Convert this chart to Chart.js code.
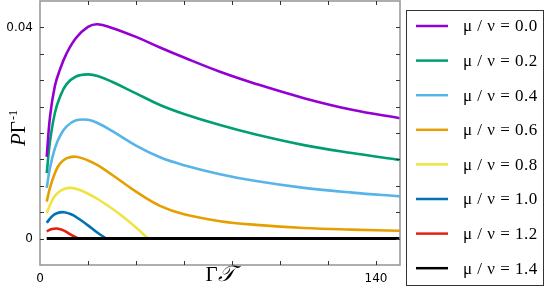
<!DOCTYPE html>
<html>
<head>
<meta charset="utf-8">
<script src="https://cdn.jsdelivr.net/npm/chart.js@4/dist/chart.umd.min.js"></script>
<style>
  html, body { margin: 0; padding: 0; background: #fff; }
  #wrap { width: 545px; height: 296px; }
</style>
</head>
<body>
<div id="wrap"><canvas id="c" width="545" height="296"></canvas></div>
<script>
// ---- data ----
const T_MAIN = [2.8, 4.2, 6.2, 8.3, 11, 15, 20, 24, 30, 40, 50, 60, 75, 90, 110, 130, 150];
const P_MU_00 = [0.0155, 0.0232, 0.0289, 0.0320, 0.0350, 0.0380, 0.0401, 0.0406, 0.0399, 0.0382, 0.0362, 0.0343, 0.0316, 0.0293, 0.0266, 0.0244, 0.0228];
const P_MU_02 = [0.0124, 0.0185, 0.0238, 0.0268, 0.0292, 0.0307, 0.0311, 0.0308, 0.0297, 0.0275, 0.0253, 0.0236, 0.0215, 0.0197, 0.0177, 0.0162, 0.0149];
const P_MU_04 = [0.0096, 0.0135, 0.0171, 0.0194, 0.0212, 0.0224, 0.0225, 0.0219, 0.0204, 0.0176, 0.0154, 0.0139, 0.0122, 0.0109, 0.0096, 0.0087, 0.0080];
const P_MU_06 = [0.0070, 0.0097, 0.0124, 0.0142, 0.0152, 0.0155, 0.0148, 0.0139, 0.0121, 0.0089, 0.0062, 0.0046, 0.0033, 0.0026, 0.0020, 0.0017, 0.0015];
const T_MU_08 = [2.8, 5, 7, 10, 13, 16, 20, 24, 30, 35, 40, 45];
const P_MU_08 = [0.0048, 0.0072, 0.0085, 0.0094, 0.0096, 0.0093, 0.0085, 0.0075, 0.0057, 0.0040, 0.0021, 0.0];
const T_MU_10 = [2.8, 5, 7, 10, 13, 16, 20, 24, 27.7];
const P_MU_10 = [0.0030, 0.0042, 0.0048, 0.0050, 0.0046, 0.0038, 0.0025, 0.0011, 0.0];
const T_MU_12 = [2.8, 5, 7, 10, 13, 16];
const P_MU_12 = [0.0014, 0.0018, 0.0019, 0.0015, 0.0007, 0.0];
const T_MU_14 = [2.8, 150];
const P_MU_14 = [0, 0];
const LABELS = ['μ / ν = 0.0', 'μ / ν = 0.2', 'μ / ν = 0.4', 'μ / ν = 0.6',
                'μ / ν = 0.8', 'μ / ν = 1.0', 'μ / ν = 1.2', 'μ / ν = 1.4'];
const COLORS = ['#9400D3', '#009E73', '#56B4E9', '#E69F00', '#F0E442', '#0072B2', '#E51E10', '#000000'];
const X_TICK_LABELS = [0, 140];
const Y_TICK_LABELS = [0, 0.04];

const SERIES = [
  [T_MAIN, P_MU_00], [T_MAIN, P_MU_02], [T_MAIN, P_MU_04], [T_MAIN, P_MU_06],
  [T_MU_08, P_MU_08], [T_MU_10, P_MU_10], [T_MU_12, P_MU_12], [T_MU_14, P_MU_14]
];

const datasets = SERIES.map((s, i) => ({
  label: LABELS[i],
  data: s[0].map((t, k) => ({ x: t, y: s[1][k] })),
  borderColor: COLORS[i],
  backgroundColor: COLORS[i],
  borderWidth: i === 7 ? 3 : 2.6,
  pointRadius: 0,
  fill: false,
  tension: 0.4,
  order: i === 7 ? -1 : i
}));

const decor = {
  id: 'decor',
  afterDatasetsDraw(chart) {
    const ctx = chart.ctx;
    const a = chart.chartArea;
    const xs = chart.scales.x, ys = chart.scales.y;
    ctx.save();
    // frame
    ctx.strokeStyle = '#9a9a9a';
    ctx.lineWidth = 1.6;
    ctx.strokeRect(a.left, a.top, a.right - a.left, a.bottom - a.top);
    // inward ticks on all sides
    ctx.strokeStyle = '#333';
    ctx.lineWidth = 1;
    const L = 4;
    xs.ticks.forEach(t => {
      if (t.value <= xs.min || t.value >= xs.max) return;
      const px = Math.round(xs.getPixelForValue(t.value)) + 0.5;
      ctx.beginPath();
      ctx.moveTo(px, a.bottom); ctx.lineTo(px, a.bottom - L);
      ctx.moveTo(px, a.top); ctx.lineTo(px, a.top + L);
      ctx.stroke();
    });
    ys.ticks.forEach(t => {
      if (t.value <= ys.min + 1e-9 || t.value >= ys.max - 1e-9) return;
      const py = Math.round(ys.getPixelForValue(t.value)) + 0.5;
      ctx.beginPath();
      ctx.moveTo(a.left, py); ctx.lineTo(a.left + L, py);
      ctx.moveTo(a.right, py); ctx.lineTo(a.right - L, py);
      ctx.stroke();
    });
    ctx.restore();

    // axis titles
    ctx.save();
    ctx.fillStyle = '#000';
    ctx.textBaseline = 'alphabetic';
    ctx.textAlign = 'left';
    // x title: Γ𝒯
    const cx = (a.left + a.right) / 2;
    ctx.font = '21px "Liberation Serif"';
    const gW = ctx.measureText('Γ').width;
    ctx.font = 'italic 22px "DejaVu Serif"';
    const tW = ctx.measureText('𝒯').width;
    let x0 = cx - (gW + tW) / 2;
    ctx.font = '21px "Liberation Serif"';
    ctx.fillText('Γ', x0, 281);
    ctx.font = 'italic 22px "DejaVu Serif"';
    ctx.fillText('𝒯', x0 + gW, 281);
    // y title: PΓ^-1 rotated
    ctx.translate(25, 146);
    ctx.rotate(-Math.PI / 2);
    ctx.font = 'italic 21px "Liberation Serif"';
    ctx.fillText('P', 0, 0);
    let w = ctx.measureText('P').width;
    ctx.font = '21px "Liberation Serif"';
    ctx.fillText('Γ', w, 0);
    w += ctx.measureText('Γ').width + 1;
    ctx.font = '12px "Liberation Serif"';
    ctx.fillText('-1', w, -8);
    ctx.restore();

    // legend
    ctx.save();
    ctx.strokeStyle = '#333';
    ctx.lineWidth = 1;
    ctx.strokeRect(406.5, 10.5, 137, 275);
    ctx.font = '17px "Liberation Serif"';
    ctx.letterSpacing = '0.5px';
    ctx.textBaseline = 'middle';
    ctx.fillStyle = '#000';
    chart.data.datasets.forEach((ds, i) => {
      const y = 26 + i * 34.6;
      ctx.strokeStyle = ds.borderColor;
      ctx.lineWidth = 2.5;
      ctx.beginPath();
      ctx.moveTo(416, y); ctx.lineTo(448, y);
      ctx.stroke();
      ctx.fillText(ds.label, 463, y + 1);
    });
    ctx.restore();
  }
};

new Chart(document.getElementById('c'), {
  type: 'line',
  data: { datasets },
  options: {
    responsive: false,
    devicePixelRatio: 1,
    animation: false,
    layout: { padding: { left: 0, right: 145, top: 1, bottom: 0 } },
    plugins: { legend: { display: false }, tooltip: { enabled: false } },
    scales: {
      x: {
        type: 'linear', min: 0, max: 150,
        grid: { display: false, drawTicks: false },
        border: { display: false },
        ticks: {
          stepSize: 20, autoSkip: false, maxRotation: 0, padding: 7, includeBounds: false,
          color: '#000', font: { family: 'DejaVu Sans', size: 12 },
          callback: v => X_TICK_LABELS.some(l => Math.abs(l - v) < 1e-9) ? String(v) : ''
        },
        afterFit: s => { s.height = 31; s.paddingLeft = 0; s.paddingRight = 0; }
      },
      y: {
        type: 'linear', min: -0.005, max: 0.045,
        grid: { display: false, drawTicks: false },
        border: { display: false },
        ticks: {
          stepSize: 0.005, autoSkip: false, padding: 7,
          color: '#000', font: { family: 'DejaVu Sans', size: 12 },
          callback: v => {
            const hit = Y_TICK_LABELS.find(l => Math.abs(l - v) < 1e-9);
            return hit === undefined ? '' : String(hit);
          }
        },
        afterFit: s => { s.width = 40; s.paddingTop = 0; s.paddingBottom = 0; }
      }
    }
  },
  plugins: [decor]
});
</script>
</body>
</html>
